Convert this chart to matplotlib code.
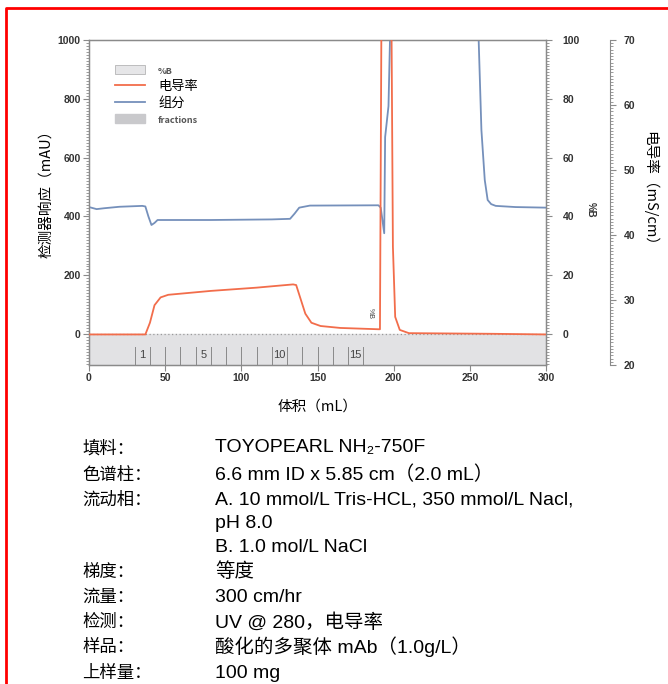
import numpy as np
import matplotlib
matplotlib.use('Agg')
import matplotlib.pyplot as plt
from matplotlib.patches import Patch
from matplotlib.lines import Line2D
from matplotlib.ticker import MultipleLocator

plt.rcParams['font.family'] = ['Liberation Sans', 'Noto Sans CJK SC', 'DejaVu Sans']

# UV trace (mAU)
uv_vol = [0, 5, 10, 20, 35, 37, 39, 41, 43, 45, 80, 120, 132, 135, 138, 145, 190,
          191.5, 193.8, 194.4, 196.6, 197.8, 255.5, 257.6, 259.8, 261.7, 264, 267, 280, 300]
uv_mau = [432, 425, 428, 433, 436, 434, 400, 371, 378, 388, 388, 390, 392, 410, 430, 437, 438,
          430, 343, 670, 775, 1050, 1050, 694, 524, 456, 442, 436, 432, 430]

# conductivity trace (mS/cm)
cond_vol = [0, 37, 40, 43, 47, 52, 80, 110, 134, 136, 139, 142, 146, 152, 165, 190, 191,
            192, 198.5, 199.5, 201, 204, 210, 265, 300]
cond_ms = [24.7, 24.7, 26.5, 29.2, 30.4, 30.8, 31.4, 31.9, 32.4, 32.3, 30.1, 27.9, 26.5, 26.0,
           25.7, 25.5, 25.5, 75, 75, 38.2, 27.4, 25.4, 24.9, 24.8, 24.7]

# fractions
frac_edges = [30, 40, 50, 60, 70, 80, 90, 100, 110, 120, 130, 140, 150, 160, 170, 180]
frac_labels = {1: '1', 5: '5', 10: '10', 15: '15'}

legend_labels = ['%B', '电导率', '组分', 'fractions']

info_keys = ['填料：', '色谱柱：', '流动相：', '', '', '梯度：', '流量：', '检测：', '样品：', '上样量：']
info_vals = ['TOYOPEARL NH₂-750F', '6.6 mm ID x 5.85 cm（2.0 mL）',
             'A. 10 mmol/L Tris-HCL, 350 mmol/L Nacl,', 'pH 8.0', 'B. 1.0 mol/L NaCl',
             '等度', '300 cm/hr', 'UV @ 280，电导率', '酸化的多聚体 mAb（1.0g/L）', '100 mg']
info_y = [448, 475, 500, 524, 548, 572, 597, 622, 647, 673]

orange = '#f26d4b'
blue = '#7590bb'
spine_c = '#8a8a8a'


def style_ticks(a):
    for lab in a.get_xticklabels() + a.get_yticklabels():
        lab.set_fontsize(7.5)
        lab.set_fontweight('bold')
        lab.set_color('#333333')


W, H = 668, 684
fig = plt.figure(figsize=(W / 100, H / 100), dpi=100)
ax = fig.add_axes([89 / W, 1 - 365 / H, (546 - 89) / W, (365 - 40) / H])

ax.set_xlim(0, 300)
ax.set_ylim(-105, 1000)

# fraction band
ax.axhspan(-105, 0, color='#e2e2e4', zorder=0)
ax.axhline(0, color='#9a9a9a', lw=0.9, ls=(0, (1, 2)), zorder=1)
for e in frac_edges:
    ax.plot([e, e], [-45, -100], color='#8a8a8a', lw=0.7, zorder=1)
for i in range(len(frac_edges) - 1):
    n = i + 1
    if n in frac_labels:
        ax.text((frac_edges[i] + frac_edges[i + 1]) / 2, -72, frac_labels[n],
                ha='center', va='center', fontsize=8, color='#444444')

ax.plot(uv_vol, uv_mau, color=blue, lw=1.3, zorder=3)
ax.text(184.5, 70, '%B', rotation=270, fontsize=5, ha='center', va='center', color='#444444')

ax.set_xticks(range(0, 301, 50))
ax.set_yticks(range(0, 1001, 200))
ax.yaxis.set_minor_locator(MultipleLocator(10))
ax.tick_params(axis='both', which='major', length=4, width=0.8, color=spine_c, pad=2)
ax.tick_params(axis='y', which='minor', length=2, width=0.6, color=spine_c)
style_ticks(ax)
for s in ax.spines.values():
    s.set_color(spine_c)
    s.set_linewidth(1.0)

# %B axis
axb = ax.twinx()
axb.set_ylim(-10.5, 100)
axb.set_yticks(range(0, 101, 20))
axb.yaxis.set_minor_locator(MultipleLocator(1))
axb.tick_params(axis='y', which='major', length=4, width=0.8, color=spine_c, pad=8)
axb.tick_params(axis='y', which='minor', length=2, width=0.6, color=spine_c)
style_ticks(axb)
for s in axb.spines.values():
    s.set_color(spine_c)

# conductivity axis
axc = ax.twinx()
axc.spines['right'].set_position(('axes', 1.14))
axc.spines['right'].set_color(spine_c)
for k in ['top', 'left', 'bottom']:
    axc.spines[k].set_visible(False)
axc.set_ylim(20, 70)
axc.set_yticks(range(20, 71, 10))
axc.yaxis.set_minor_locator(MultipleLocator(0.5))
axc.tick_params(axis='y', which='major', length=4, width=0.8, color=spine_c, pad=6)
axc.tick_params(axis='y', which='minor', length=2, width=0.6, color=spine_c)
style_ticks(axc)
axc.plot(cond_vol, cond_ms, color=orange, lw=1.3, zorder=4)

# axis titles
fig.text(46 / W, 1 - 190 / H, '检测器响应（mAU）', rotation=90, ha='center', va='center',
         fontsize=10.5, family=['Noto Sans CJK SC'])
fig.text(591 / W, 1 - 210 / H, '%B', rotation=270, ha='center', va='center',
         fontsize=7, fontweight='bold', color='#333333')
fig.text(650 / W, 1 - 192 / H, '电导率（mS/cm）', rotation=270, ha='center', va='center',
         fontsize=10.5, family=['Noto Sans CJK SC'])
fig.text(318 / W, 1 - 407 / H, '体积（mL）', ha='center', va='center',
         fontsize=10.5, family=['Noto Sans CJK SC'])

# legend
handles = [Patch(facecolor='#e6e6e8', edgecolor='#b5b5b5', lw=0.6),
           Line2D([], [], color=orange, lw=1.3),
           Line2D([], [], color=blue, lw=1.3),
           Patch(facecolor='#c9c9cc', edgecolor='#c9c9cc')]
leg = ax.legend(handles, legend_labels, loc='upper left', bbox_to_anchor=(0.03, 0.96),
                frameon=False, handlelength=2.3, handleheight=0.7,
                labelspacing=0.3, handletextpad=1.0,
                prop={'family': ['Noto Sans CJK SC'], 'size': 9.5})
for i in (0, 3):
    leg.get_texts()[i].set_fontsize(6.5)
    leg.get_texts()[i].set_fontweight('bold')
    leg.get_texts()[i].set_color('#555555')

# info block
for k, v, y in zip(info_keys, info_vals, info_y):
    if k:
        fig.text(82 / W, 1 - y / H, k, ha='left', va='center', fontsize=12.5)
    fig.text(215 / W, 1 - y / H, v, ha='left', va='center', fontsize=14)

# red frame
fig.add_artist(Line2D([6 / W, 6 / W, 1.0], [0, 1 - 8 / H, 1 - 8 / H],
                      transform=fig.transFigure, color='red', lw=2))

fig.savefig('out.png', dpi=100)
